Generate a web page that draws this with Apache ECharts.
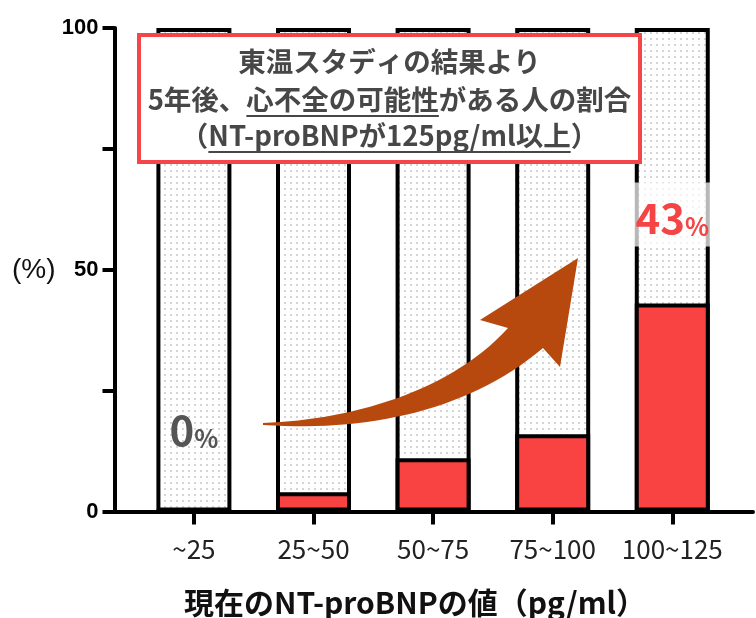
<!DOCTYPE html>
<html>
<head>
<meta charset="utf-8">
<script src="https://cdn.jsdelivr.net/npm/echarts@6/dist/echarts.min.js"></script>
<style>
  html, body { margin: 0; padding: 0; background: #fff; }
  #chart { width: 756px; height: 618px; }
</style>
</head>
<body>
<div id="chart"></div>
<script>
// NT-proBNP bands (pg/ml) and the share of people who reached >= 125 pg/ml five years later
const categories = ['~25', '25~50', '50~75', '75~100', '100~125'];
const shares = [0, 4, 11, 16, 43];          // %
const totals = [100, 100, 100, 100, 100];   // every band is 100 %
const yLabelTicks = [0, 50, 100];
const titleLines = [
  [{ t: '東温スタディの結果より' }],
  [{ t: '5年後、' }, { t: '心不全の可能性', u: true }, { t: 'がある人の割合' }],
  [{ t: '（' }, { t: 'NT-proBNPが125pg/ml以上', u: true }, { t: '）' }]
];
const xTitle = '現在のNT-proBNPの値（pg/ml）';
const yTitle = '(%)';

const JP = '"Noto Sans CJK JP", "Noto Sans", sans-serif';
const LAT = '"Liberation Sans", Arial, sans-serif';
const RED = '#f94242';

// light dotted fill for the remaining part of each bar
const dots = document.createElement('canvas');
dots.width = 6; dots.height = 6;
const dg = dots.getContext('2d');
dg.fillStyle = '#ffffff'; dg.fillRect(0, 0, 6, 6);
dg.fillStyle = '#a0a0a0';
dg.beginPath(); dg.arc(3, 3, 0.8, 0, Math.PI * 2); dg.fill();

const idx = categories.map((_, i) => i);

// value labels shown on the first and the last band
const valueLabels = {
  0: { offset: -82, color: '#555555', bg: 'transparent' },
  4: { offset: -89, color: '#f44444', bg: 'rgba(255,255,255,0.72)' }
};

function valueLabel(cfg) {
  return {
    show: true,
    position: ['50%', cfg.offset],
    align: 'center',
    verticalAlign: 'middle',
    backgroundColor: cfg.bg,
    padding: [8, 22, 8, 22],
    formatter: p => '{n|' + p.value[1] + '}{p|%}',
    rich: {
      n: { fontSize: 42, fontWeight: 'bold', fontFamily: JP, color: cfg.color, lineHeight: 48, verticalAlign: 'bottom' },
      p: { fontSize: 25, fontWeight: 'bold', fontFamily: JP, color: cfg.color, lineHeight: 36, verticalAlign: 'bottom' }
    }
  };
}

// title box with partly underlined lines
const graphics = [];
const box = { x: 139, y: 35, w: 501, h: 127 };
graphics.push({
  type: 'rect', z: 100,
  shape: { x: box.x, y: box.y, width: box.w, height: box.h },
  style: { fill: '#ffffff', stroke: '#f44548', lineWidth: 4 }
});
const TFONT = 'bold 27.5px ' + JP;
const mctx = document.createElement('canvas').getContext('2d');
mctx.font = TFONT;
const lineY = [62, 100, 136];
const cx = box.x + box.w / 2;
titleLines.forEach((segs, li) => {
  const widths = segs.map(s => mctx.measureText(s.t).width);
  let x = cx - widths.reduce((a, b) => a + b, 0) / 2;
  segs.forEach((s, k) => {
    graphics.push({
      type: 'text', z: 101, x: x, y: lineY[li],
      style: { text: s.t, font: TFONT, fill: '#474747', align: 'left', textAlign: 'left', verticalAlign: 'middle', textVerticalAlign: 'middle' }
    });
    if (s.u) {
      graphics.push({
        type: 'line', z: 101,
        shape: { x1: x, y1: lineY[li] + 16, x2: x + widths[k], y2: lineY[li] + 16 },
        style: { stroke: '#474747', lineWidth: 2 }
      });
    }
    x += widths[k];
  });
});

// rising arrow: curved body edges sampled from cubic Béziers, plus the head
function cubic(p0, p1, p2, p3, n) {
  const pts = [];
  for (let i = 0; i <= n; i++) {
    const t = i / n, u = 1 - t;
    pts.push([
      u * u * u * p0[0] + 3 * u * u * t * p1[0] + 3 * u * t * t * p2[0] + t * t * t * p3[0],
      u * u * u * p0[1] + 3 * u * u * t * p1[1] + 3 * u * t * t * p2[1] + t * t * t * p3[1]
    ]);
  }
  return pts;
}
const arrowPts = []
  .concat(cubic([263, 423], [350, 420], [450, 392], [508, 328], 30))
  .concat([[480, 320], [578, 258], [560, 367]])
  .concat(cubic([543, 348], [470, 410], [370, 432], [263, 425], 30));
graphics.push({
  type: 'polygon', z: 100,
  shape: { points: arrowPts },
  style: { fill: '#b8490e' }
});

// axis titles
graphics.push({
  type: 'text', z: 100, x: 12, y: 270,
  style: { text: yTitle, font: '28px ' + LAT, fill: '#111', align: 'left', textAlign: 'left', verticalAlign: 'middle', textVerticalAlign: 'middle' }
});
graphics.push({
  type: 'text', z: 100, x: 415, y: 603,
  style: { text: xTitle, font: 'bold 30px ' + JP, fill: '#111', align: 'center', textAlign: 'center', verticalAlign: 'middle', textVerticalAlign: 'middle' }
});

const chart = echarts.init(document.getElementById('chart'), null, { renderer: 'canvas' });
chart.setOption({
  animation: false,
  backgroundColor: '#ffffff',
  grid: { left: 114.5, right: 3, top: 28, bottom: 106.5, containLabel: false, outerBoundsMode: 'none' },
  xAxis: {
    type: 'value', min: -0.664, max: 4.675,
    splitLine: { show: false },
    axisLine: { show: true, onZero: false, lineStyle: { color: '#000', width: 4 } },
    axisTick: { show: true, customValues: idx, length: 13, lineStyle: { color: '#000', width: 4 } },
    axisLabel: {
      customValues: idx,
      formatter: v => categories[Math.round(v)],
      margin: 25, fontSize: 26, color: '#222', fontFamily: JP
    }
  },
  yAxis: {
    type: 'value', min: 0, max: 100, interval: 25,
    splitLine: { show: false },
    axisLine: { show: true, onZero: false, lineStyle: { color: '#000', width: 4 } },
    axisTick: { show: true, length: 12, lineStyle: { color: '#000', width: 4 } },
    axisLabel: {
      formatter: v => (yLabelTicks.includes(v) ? String(v) : ''),
      fontSize: 22, fontWeight: 'bold', color: '#000', fontFamily: LAT, margin: 16
    }
  },
  series: [
    {
      type: 'bar', silent: true, z: 2,
      barWidth: 75, barGap: '-100%',
      data: totals.map((v, i) => [i, v]),
      itemStyle: { color: { image: dots, repeat: 'repeat' }, borderColor: '#000', borderWidth: 4 }
    },
    {
      type: 'bar', z: 3,
      barWidth: 75, barGap: '-100%',
      data: shares.map((v, i) => valueLabels[i]
        ? { value: [i, v], label: valueLabel(valueLabels[i]) }
        : [i, v]),
      itemStyle: { color: RED, borderColor: '#000', borderWidth: 4 }
    }
  ],
  graphic: { elements: graphics }
});
</script>
</body>
</html>
